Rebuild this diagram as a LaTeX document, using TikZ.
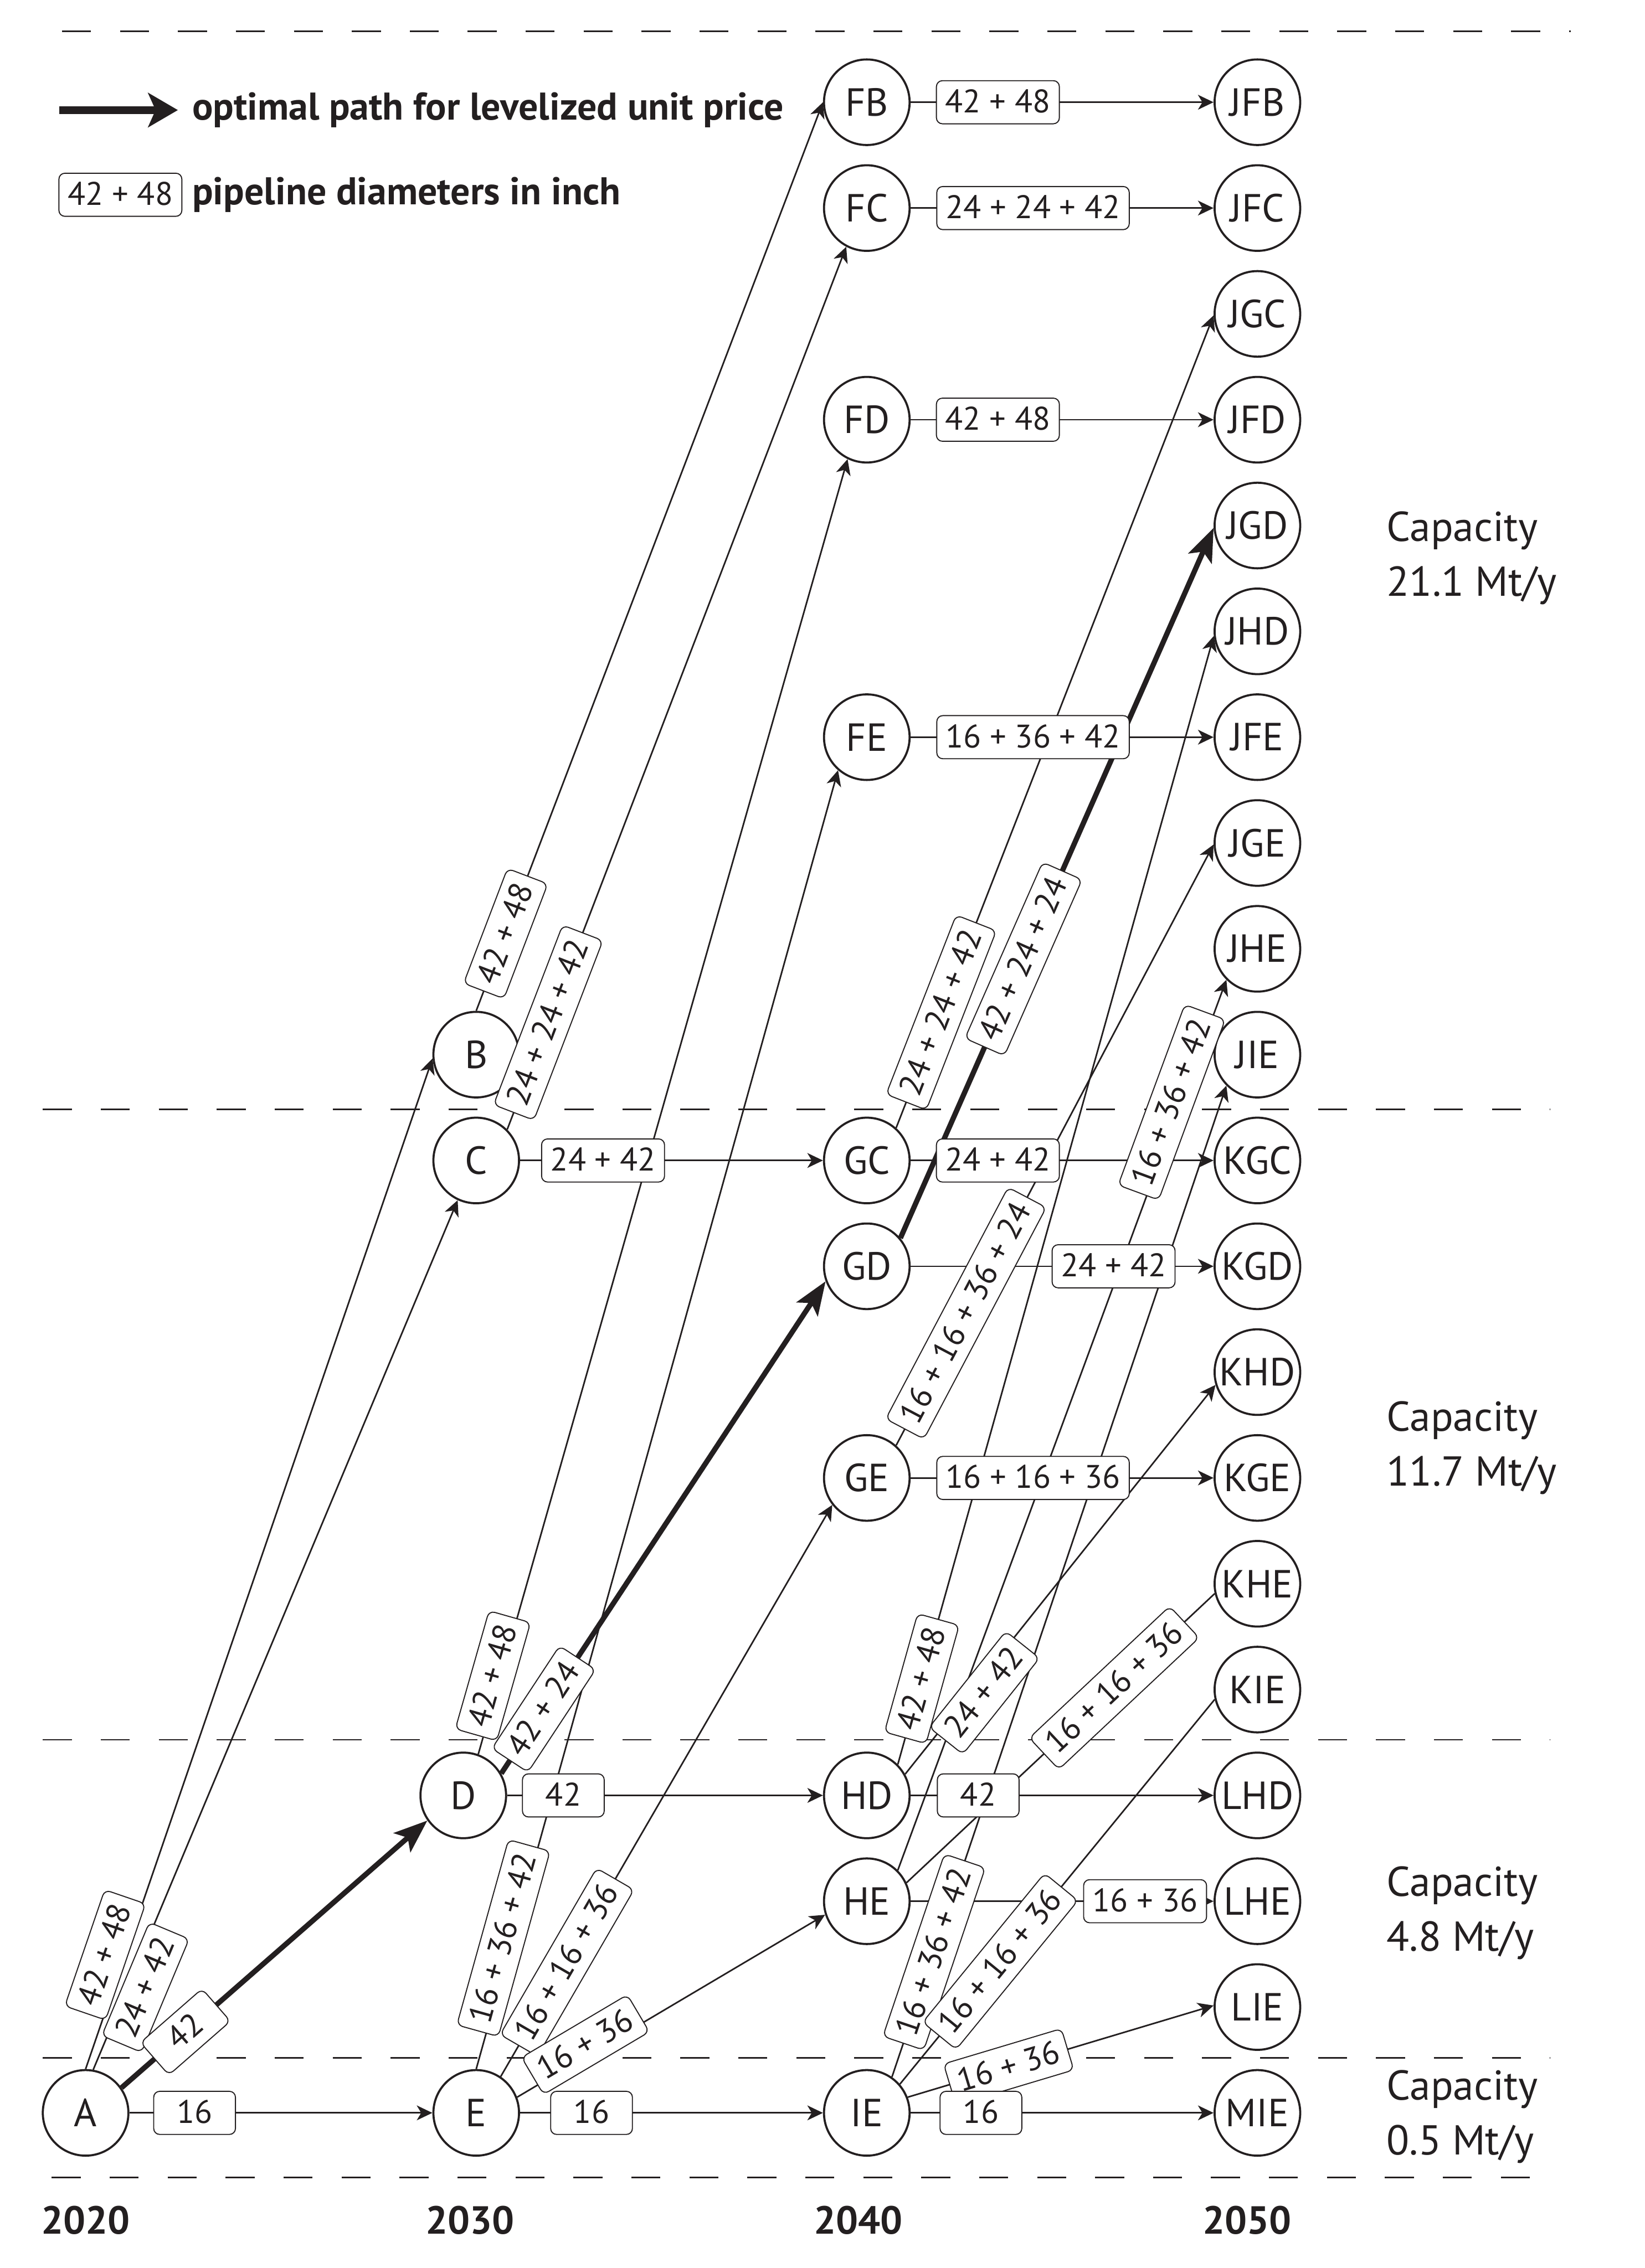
\documentclass[tikz,border=0pt]{standalone}
\usepackage{fontspec}
\setmainfont{PT Sans}
\usepackage{xcolor}
\usetikzlibrary{arrows.meta,positioning}
\definecolor{ink}{RGB}{35,31,32}

\tikzset{
  stn/.style={circle, draw=ink, line width=0.8pt, minimum size=1.152cm, inner sep=0pt, text=ink,
    font=\fontsize{15}{18}\selectfont},
  pipe/.style={draw=ink, line width=0.6pt, -{Stealth[length=0.21cm, width=0.2cm, inset=0.06cm]}},
  bare/.style={draw=ink, line width=0.6pt},
  best/.style={draw=ink, line width=2pt, -{Stealth[length=0.45cm, width=0.34cm, inset=0.1cm]}},
  dia/.style={draw=ink, fill=white, line width=0.4pt, rounded corners=0.08cm, text=ink,
    inner xsep=0.12cm, inner ysep=0pt, minimum height=0.58cm, minimum width=1.1cm,
    text height=0.3cm, text depth=0.02cm, font=\fontsize{12.5}{14}\selectfont},
  zone/.style={draw=ink, line width=0.6pt, dash pattern=on 0.39cm off 0.39cm},
  yr/.style={text=ink, font=\bfseries\fontsize{15}{18}\selectfont},
  capnote/.style={anchor=west, align=left, inner sep=0pt, text=ink, font=\fontsize{16}{21}\selectfont},
  legtext/.style={anchor=west, inner sep=0pt, text=ink, font=\bfseries\fontsize{14.8}{17}\selectfont}
}

% source anchor / target anchor / pos / shift / style / diameters
\newcommand{\pipes}{%
  A.90/B.185/0.107/0.25cm/pipe/42 + 48,
  A.80/C.245/0.102/-0.22cm/pipe/24 + 42,
  A.east/E.west/0.215/0cm/pipe/16,
  B.90/FB.180/0.085/0cm/pipe/42 + 48,
  C.45/FC.242/0.121/0cm/pipe/24 + 24 + 42,
  C.east/GC.west/0.274/0cm/pipe/24 + 42,
  D.70/FD.244/0.059/0.1cm/pipe/42 + 48,
  D.east/HD.west/0.178/0cm/pipe/42,
  E.90/FE.229/0.099/0.12cm/pipe/16 + 36 + 42,
  E.56/GE.218/0.2/0cm/pipe/16 + 16 + 36,
  E.21/HE.198/0.239/0.14cm/pipe/16 + 36,
  E.east/IE.west/0.236/0cm/pipe/16,
  FB.east/JFB.west/0.288/0cm/pipe/42 + 48,
  FC.east/JFC.west/0.404/0cm/pipe/24 + 24 + 42,
  FD.east/JFD.west/0.288/0cm/pipe/42 + 48,
  FE.east/JFE.west/0.404/0cm/pipe/16 + 36 + 42,
  GC.48/JGC.182/0.142/0cm/pipe/24 + 24 + 42,
  GC.east/KGC.west/0.288/0cm/pipe/24 + 42,
  GD.east/KGD.west/0.67/0cm/pipe/24 + 42,
  GE.48/JGE.182/0.22/0cm/pipe/16 + 16 + 36 + 24,
  GE.east/KGE.west/0.404/0cm/pipe/16 + 16 + 36,
  HD.45/JHD.186/0.076/0cm/pipe/42 + 48,
  HD.29/KHD.197/0.227/-0.15cm/pipe/24 + 42,
  HD.east/LHD.west/0.223/0cm/pipe/42,
  HE.45/JHE.225/0.859/0.12cm/pipe/16 + 36 + 42,
  HE.25/KHE.193/0.674/0cm/bare/16 + 16 + 36,
  HE.east/LHE.west/0.774/0cm/pipe/16 + 36,
  IE.55/JIE.225/0.126/0cm/pipe/16 + 36 + 42,
  IE.41/KIE.193/0.319/0cm/bare/16 + 16 + 36,
  IE.21/LIE.178/0.33/0cm/pipe/16 + 36,
  IE.east/MIE.west/0.232/0cm/pipe/16,
  A.35/D.215/0.209/0cm/best/42,
  D.30/GD.200/0.131/0cm/best/42 + 24,
  GD.40/JGD.183/0.393/0cm/best/42 + 24 + 24}

\begin{document}
\begin{tikzpicture}
\def\dx{5.256}
\def\dy{1.4244}
\useasboundingbox (-1.152,-2.088) rectangle (20.982,28.44);

% capacity zones
\draw[zone] (-0.318,28.02) -- (19.986,28.02);
\draw[zone] (-0.576,13.506) -- (19.71,13.506);
\draw[zone] (-0.576,5.022) -- (19.71,5.022);
\draw[zone] (-0.576,0.738) -- (19.71,0.738);
\draw[zone] (-0.456,-0.87) -- (19.812,-0.87);

% stations
\node[stn] (A) at (0,0) {A};
\node[stn] (B) at (\dx,10*\dy) {B};
\node[stn] (C) at (\dx,9*\dy) {C};
\node[stn] (D) at (\dx-0.174,3*\dy) {D};
\node[stn] (E) at (\dx,0) {E};
\foreach \n/\r in {FB/19,FC/18,FD/16,FE/13,GC/9,GD/8,GE/6,HD/3,HE/2,IE/0}
  \node[stn] (\n) at (2*\dx,\r*\dy) {\n};
\foreach \n [count=\r from 0] in {MIE,LIE,LHE,LHD,KIE,KHE,KGE,KHD,KGD,KGC,JIE,JHE,JGE,JFE,JHD,JGD,JFD,JGC,JFC,JFB}
  \node[stn] (\n) at (3*\dx,\r*\dy) {\n};

% pipelines, then the diameter boxes on top
\foreach \s/\t/\p/\o/\st/\l in \pipes
  \draw[\st] (\s) -- (\t);
\foreach \s/\t/\p/\o/\st/\l in \pipes
  \path (\s) -- node[dia, sloped, pos=\p, yshift=\o] {\l} (\t);

% years
\node[yr] (y2020) at (0,-1.446) {2020};
\node[yr] (y2030) at (5.172,-1.446) {2030};
\node[yr] (y2040) at (10.398,-1.446) {2040};
\node[yr] (y2050) at (15.63,-1.446) {2050};

% capacities
\node[capnote] (cap1) at (17.502,20.928) {Capacity\\21.1 Mt/y};
\node[capnote] (cap2) at (17.502,8.952) {Capacity\\11.7 Mt/y};
\node[capnote] (cap3) at (17.502,2.694) {Capacity\\4.8 Mt/y};
\node[capnote] (cap4) at (17.502,-0.054) {Capacity\\0.5 Mt/y};

% legend
\coordinate (legA) at (-0.354,26.958);
\coordinate (legB) at (1.242,26.958);
\draw[draw=ink, line width=2.9pt, -{Stealth[length=0.40cm, width=0.46cm, inset=0.1cm]}] (legA) -- (legB);
\node[legtext] (legbest) at (1.428,26.958) {optimal path for levelized unit price};
\node[dia, minimum width=0pt] (legbox) at (0.468,25.818) {42 + 48};
\node[legtext] (legdia) at (1.428,25.818) {pipeline diameters in inch};
\end{tikzpicture}
\end{document}
